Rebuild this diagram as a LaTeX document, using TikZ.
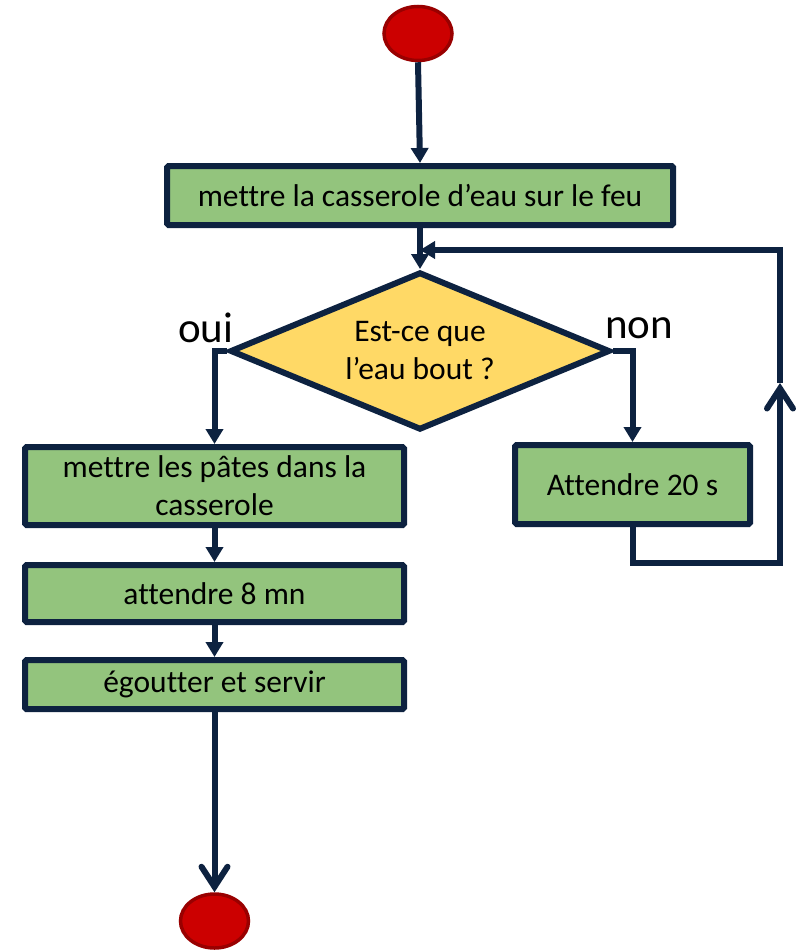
\documentclass[tikz,border=0pt]{standalone}
\usepackage{fontspec}
\setmainfont{Carlito}[Ligatures=NoCommon]
\usetikzlibrary{shapes.geometric,arrows.meta}
\definecolor{navy}{RGB}{13,34,64}
\definecolor{boxgreen}{RGB}{147,196,125}
\definecolor{qyellow}{RGB}{255,217,102}
\definecolor{redfill}{RGB}{204,0,0}
\definecolor{redline}{RGB}{153,0,0}
\begin{document}
\begin{tikzpicture}[x=1pt,y=-1pt,
  stepbox/.style={rectangle, draw=navy, fill=boxgreen, line width=6pt,
    rounded corners=1.5pt, inner sep=0pt, align=center,
    font=\fontsize{31.5}{38}\selectfont},
  test/.style={diamond, aspect=2.4, draw=navy, fill=qyellow, line width=6pt,
    inner sep=0pt, align=center, minimum width=380pt, minimum height=158pt,
    font=\fontsize{31.5}{38}\selectfont},
  terminal/.style={ellipse, draw=redline, fill=redfill, line width=3.5pt,
    minimum width=68pt, minimum height=54pt, inner sep=0pt},
  flow/.style={draw=navy, line width=6pt, -{Triangle[length=15pt,width=17pt]}},
  openflow/.style={draw=navy, line width=6pt,
    -{Straight Barb[length=20pt,width=26pt,line cap=round]}},
  branch/.style={inner sep=0pt, font=\fontsize{43}{43}\selectfont}
]
\useasboundingbox (0,0) rectangle (800,950);

% terminals
\node[terminal] (start) at (418,33.5) {};
\node[terminal] (stop) at (214.5,921) {};

% process steps and the test
\node[stepbox, minimum width=506pt, minimum height=59pt] (heat) at (420,195.5)
  {mettre la casserole d’eau sur le feu};
\node[test] (boil) at (420,351) {Est-ce que\\l’eau bout ?};
\node[stepbox, minimum width=379pt, minimum height=78pt] (pasta) at (214.5,486)
  {mettre les pâtes dans la\\casserole};
\node[stepbox, minimum width=379pt, minimum height=57pt] (wait8) at (214.5,593.5)
  {attendre 8 mn};
\node[stepbox, minimum width=379pt, minimum height=49pt] (serve) at (214.5,684.5)
  {égoutter et servir};
\node[stepbox, minimum width=235pt, minimum height=79pt] (wait20) at (632.5,484.5)
  {Attendre 20 s};

% branch labels
\node[branch, anchor=base west] (oui) at (178,342) {oui};
\node[branch, anchor=base west] (non) at (605,338) {non};

% waiting loop corners
\coordinate (merge) at (420,250);
\coordinate (loopLow) at (632.5,563);
\coordinate (loopRight) at (780,563);
\coordinate (loopMid) at (780,383);
\coordinate (loopTop) at (780,250);

% connectors
\draw[flow] (start.south) -- (heat.north);
\draw[flow] (heat.south) -- (boil.north);
\draw[flow] (boil.west) -| (pasta.north);
\draw[flow] (boil.east) -| (wait20.north);
\draw[flow] (pasta.south) -- (wait8.north);
\draw[flow] (wait8.south) -- (serve.north);
\draw[openflow] (serve.south) -- (stop.north);
\draw[openflow] (wait20.south) -- (loopLow) -- (loopRight) -- (loopMid);
\draw[flow] (loopMid) -- (loopTop) -- (merge);
\end{tikzpicture}
\end{document}
